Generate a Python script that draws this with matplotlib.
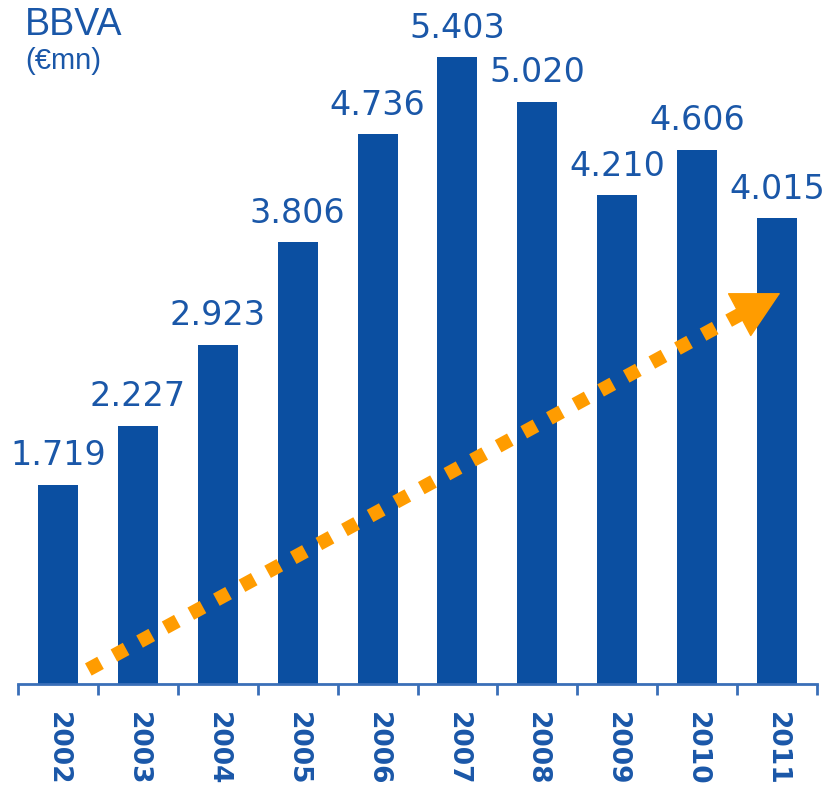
import numpy as np
import matplotlib.pyplot as plt

# data
years = ["2002", "2003", "2004", "2005", "2006", "2007", "2008", "2009", "2010", "2011"]
values = [1719, 2227, 2923, 3806, 4736, 5403, 5020, 4210, 4606, 4015]
labels = ["1.719", "2.227", "2.923", "3.806", "4.736", "5.403", "5.020", "4.210", "4.606", "4.015"]

# trend arrow (data coords): start, head base, tip
arrow_start = (0.38, 125)
arrow_base = (8.57, 3197)
arrow_tip = (9.04, 3369)

bar_color = "#0b4fa1"
text_color = "#1a57a8"
axis_color = "#3a6fb8"
orange = "#ff9c00"

fig = plt.figure(figsize=(8.34, 7.87), dpi=100)
ax = fig.add_axes([18 / 834, 103 / 787, 799 / 834, 673 / 787])

x = np.arange(len(years))
bars = ax.bar(x, values, width=0.5, color=bar_color, zorder=2)

for xi, v, lab in zip(x, values, labels):
    ax.annotate(lab, (xi, v), xytext=(0, 14), textcoords="offset points",
                ha="center", va="baseline", fontsize=24, color=text_color)

ax.set_xlim(-0.5, len(years) - 0.5)
ax.set_ylim(0, 5800)

for s in ["top", "left", "right"]:
    ax.spines[s].set_visible(False)
ax.spines["bottom"].set_color(axis_color)
ax.spines["bottom"].set_linewidth(2)
ax.set_yticks([])

ax.set_xticks(x)
ax.set_xticklabels(years, rotation=-90, fontsize=19, fontweight="bold", color=text_color)
ax.tick_params(axis="x", which="major", length=0, pad=20)
ax.set_xticks(np.arange(-0.5, len(years)), minor=True)
ax.tick_params(axis="x", which="minor", length=8, width=2, color=axis_color)

# dotted trend line + head
ax.plot([arrow_start[0], arrow_base[0]], [arrow_start[1], arrow_base[1]],
        color=orange, lw=10, dashes=(1, 1.1), solid_capstyle="butt",
        dash_capstyle="butt", zorder=3)
ax.annotate("", xy=arrow_tip, xytext=arrow_base,
            arrowprops=dict(arrowstyle="-|>,head_length=32,head_width=17",
                            mutation_scale=1, fc=orange, ec=orange, lw=1,
                            shrinkA=0, shrinkB=0), zorder=3)

fig.text(25 / 834, 1 - 7 / 787, "BBVA", fontsize=27, color=text_color,
         family="Liberation Sans", va="top")
fig.text(25 / 834, 1 - 47 / 787, "(€mn)", fontsize=21, color=text_color,
         family="Liberation Sans", va="top")

fig.savefig("out.png", dpi=100)
